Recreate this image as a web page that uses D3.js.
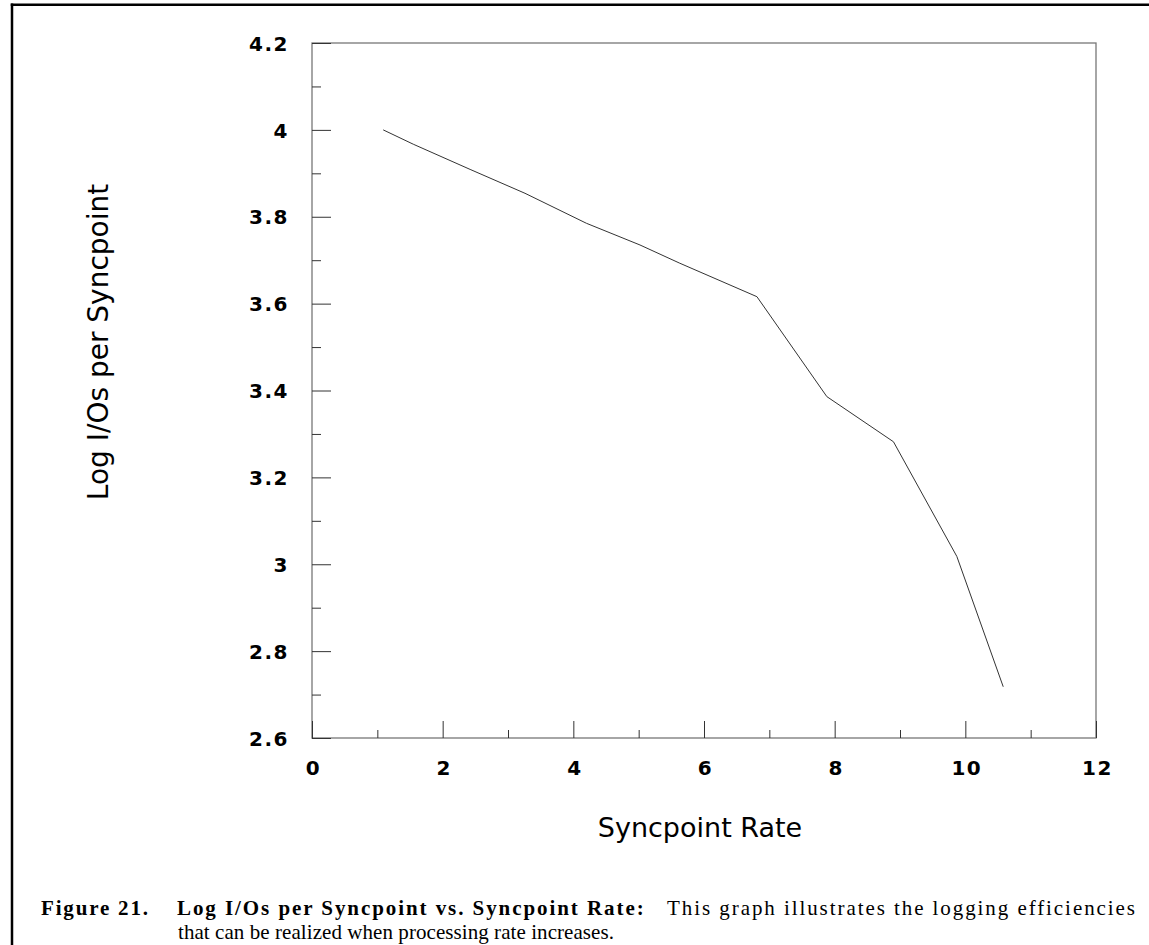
<!DOCTYPE html>
<html>
<head>
<meta charset="utf-8">
<script src="https://cdn.jsdelivr.net/npm/d3@7"></script>
<style>
  html, body { margin: 0; padding: 0; background: #fff; }
  svg { display: block; }
</style>
</head>
<body>
<svg id="chart" width="1149" height="945"></svg>
<script>
// ---- data ----
const syncpointRate = [1.09, 1.55, 2.42, 3.26, 4.20, 5.02, 5.63, 6.81, 7.88, 8.90, 9.87, 10.58];
const logIOsPerSyncpoint = [4.000, 3.967, 3.909, 3.854, 3.785, 3.735, 3.693, 3.616, 3.386, 3.282, 3.018, 2.718];
const xTickValues = [0, 2, 4, 6, 8, 10, 12];
const xMinorValues = [1, 3, 5, 7, 9, 11];
const yTickValues = [2.6, 2.8, 3.0, 3.2, 3.4, 3.6, 3.8, 4.0, 4.2];
const yTickLabels = ["2.6", "2.8", "3", "3.2", "3.4", "3.6", "3.8", "4", "4.2"];
const yMinorValues = [2.7, 2.9, 3.1, 3.3, 3.5, 3.7, 3.9, 4.1];
const xTitle = "Syncpoint Rate";
const yTitle = "Log I/Os per Syncpoint";
const captionLabel = "Figure 21.";
const captionBold = "Log I/Os per Syncpoint vs. Syncpoint Rate:";
const captionText1 = "This graph illustrates the logging efficiencies";
const captionText2 = "that can be realized when processing rate increases.";

// ---- layout ----
const svg = d3.select("#chart");
const plotLeft = 312, plotRight = 1096, plotTop = 43, plotBottom = 738;

const x = d3.scaleLinear().domain([0, 12]).range([plotLeft, plotRight]);
const y = d3.scaleLinear().domain([2.6, 4.2]).range([plotBottom, plotTop]);

// outer frame (left and top edges)
svg.append("line").attr("x1", 12).attr("x2", 12).attr("y1", 3.5).attr("y2", 945)
  .attr("stroke", "#000").attr("stroke-width", 2.5);
svg.append("line").attr("x1", 10.75).attr("x2", 1149).attr("y1", 4.75).attr("y2", 4.75)
  .attr("stroke", "#000").attr("stroke-width", 2.5);

const axisColor = "#777";

// plot box
svg.append("rect").attr("x", plotLeft).attr("y", plotTop)
  .attr("width", plotRight - plotLeft).attr("height", plotBottom - plotTop)
  .attr("fill", "none").attr("stroke", axisColor).attr("stroke-width", 1.3);

const tickFont = "'DejaVu Sans'";

// bottom axis
const xAxis = d3.axisBottom(x).tickValues(xTickValues).tickSize(-17).tickPadding(0)
  .tickFormat(d3.format("d"));
const gx = svg.append("g").attr("transform", `translate(0,${plotBottom})`).call(xAxis);
gx.select(".domain").remove();
gx.selectAll(".tick line").attr("stroke", "#333").attr("stroke-width", 1);
gx.selectAll(".tick text")
  .attr("y", 37).attr("dy", 0).attr("dx", 1)
  .attr("fill", "#000")
  .style("font-family", tickFont).style("font-weight", "bold")
  .style("font-size", "20px").style("letter-spacing", "1.5px");

const xMinor = d3.axisBottom(x).tickValues(xMinorValues).tickSize(-8).tickFormat("");
const gxm = svg.append("g").attr("transform", `translate(0,${plotBottom})`).call(xMinor);
gxm.select(".domain").remove();
gxm.selectAll(".tick line").attr("stroke", "#333").attr("stroke-width", 1);

// left axis
const yAxis = d3.axisLeft(y).tickValues(yTickValues).tickSize(-19).tickPadding(0)
  .tickFormat((d, i) => yTickLabels[i]);
const gy = svg.append("g").attr("transform", `translate(${plotLeft},0)`).call(yAxis);
gy.select(".domain").remove();
gy.selectAll(".tick line").attr("stroke", "#333").attr("stroke-width", 1);
gy.selectAll(".tick text")
  .attr("x", -23).attr("dy", "0.36em")
  .attr("fill", "#000")
  .style("font-family", tickFont).style("font-weight", "bold")
  .style("font-size", "20px").style("letter-spacing", "1.5px");

const yMinor = d3.axisLeft(y).tickValues(yMinorValues).tickSize(-9).tickFormat("");
const gym = svg.append("g").attr("transform", `translate(${plotLeft},0)`).call(yMinor);
gym.select(".domain").remove();
gym.selectAll(".tick line").attr("stroke", "#333").attr("stroke-width", 1);

// data line
const pts = syncpointRate.map((v, i) => [v, logIOsPerSyncpoint[i]]);
svg.append("path")
  .datum(pts)
  .attr("d", d3.line().x(d => x(d[0])).y(d => y(d[1])))
  .attr("fill", "none").attr("stroke", "#333").attr("stroke-width", 1);

// axis titles
svg.append("text")
  .attr("x", (plotLeft + plotRight) / 2 - 4).attr("y", 837)
  .attr("text-anchor", "middle")
  .style("font-family", "'DejaVu Sans'").style("font-size", "27px")
  .attr("fill", "#000")
  .text(xTitle);

svg.append("text")
  .attr("transform", "translate(108,342) rotate(-90)")
  .attr("text-anchor", "middle")
  .style("font-family", "'DejaVu Sans'").style("font-size", "28px")
  .attr("fill", "#000")
  .text(yTitle);

// caption
const capFont = "'Liberation Serif', 'Times New Roman', serif";
svg.append("text")
  .attr("x", 41).attr("y", 915)
  .style("font-family", capFont).style("font-size", "21px").style("font-weight", "bold")
  .attr("textLength", 107).attr("lengthAdjust", "spacing")
  .text(captionLabel);

const cap1 = svg.append("text")
  .attr("x", 177).attr("y", 915)
  .style("font-family", capFont).style("font-size", "21px")
  .attr("textLength", 958).attr("lengthAdjust", "spacing");
cap1.append("tspan").style("font-weight", "bold").text(captionBold);
cap1.append("tspan").text("\u00a0\u00a0\u00a0" + captionText1);

svg.append("text")
  .attr("x", 178).attr("y", 939)
  .style("font-family", capFont).style("font-size", "21px")
  .attr("textLength", 436).attr("lengthAdjust", "spacing")
  .text(captionText2);
</script>
</body>
</html>
